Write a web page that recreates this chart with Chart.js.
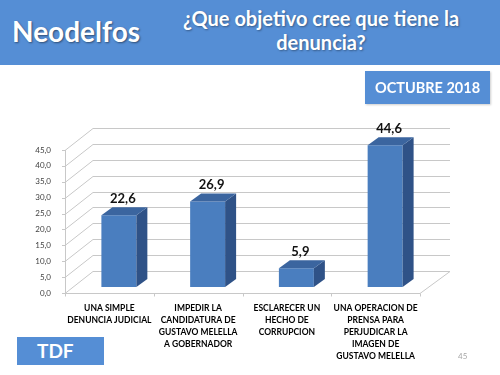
<!DOCTYPE html>
<html>
<head>
<meta charset="utf-8">
<script src="https://cdn.jsdelivr.net/npm/chart.js@4.4.0/dist/chart.umd.min.js"></script>
<style>
  body { margin: 0; width: 500px; height: 375px; overflow: hidden; background: #fff; font-family: Lato, "Open Sans", sans-serif; }
  #cabecera { position: absolute; left: 0; top: 0; width: 500px; height: 65px; background: #558ed5; }
  #marca { position: absolute; left: 12px; top: 14px; color: #fff; font-weight: bold; font-size: 28px; text-shadow: 1px 1px 2px rgba(0,0,0,0.45); }
  #titulo { position: absolute; left: 160px; width: 322px; top: 6px; text-align: center; color: #fff; font-weight: bold; font-size: 20px; line-height: 24px; text-shadow: 1px 1px 2px rgba(0,0,0,0.35); }
  #fecha { position: absolute; left: 365px; top: 71px; width: 125px; height: 33px; background: #558ed5; color: #fff; font-weight: bold; font-size: 14.5px; line-height: 33px; text-align: center; box-shadow: 1px 1px 2px rgba(0,0,0,0.2); }
  #tdf { position: absolute; left: 17px; top: 337px; width: 87px; height: 28px; background: #558ed5; color: #fff; font-weight: bold; font-size: 19px; line-height: 28px; text-indent: 20px; }
  #pagina { position: absolute; left: 458px; top: 351px; color: #a6a6a6; font-size: 8px; }
  canvas { position: absolute; left: 0; top: 0; }
</style>
</head>
<body>
<canvas id="grafico" width="500" height="375"></canvas>
<div id="cabecera">
  <div id="marca">Neodelfos</div>
  <div id="titulo">¿Que objetivo cree que tiene la<br>denuncia?</div>
</div>
<div id="fecha">OCTUBRE 2018</div>
<div id="tdf">TDF</div>
<div id="pagina">45</div>
<script>
"use strict";
// datos del grafico
const categorias = [
  ["UNA SIMPLE", "DENUNCIA JUDICIAL"],
  ["IMPEDIR LA", "CANDIDATURA DE", "GUSTAVO MELELLA", "A GOBERNADOR"],
  ["ESCLARECER UN", "HECHO DE", "CORRUPCION"],
  ["UNA OPERACION DE", "PRENSA PARA", "PERJUDICAR LA", "IMAGEN DE", "GUSTAVO MELELLA"]
];
const valores = [22.6, 26.9, 5.9, 44.6];
const ticksY = [0, 5, 10, 15, 20, 25, 30, 35, 40, 45];

const coma = (v) => v.toFixed(1).replace(".", ",");

// profundidad de la pared y de las barras
const PARED_X = 28, PARED_Y = -22;
const BARRA_X = 9.5, BARRA_Y = -6;
const LADO_X = 11, LADO_Y = -8;

const efecto3d = {
  id: "efecto3d",
  beforeDatasetsDraw(chart) {
    const ctx = chart.ctx;
    const area = chart.chartArea;
    const ys = chart.scales.y;
    const xs = chart.scales.x;
    ctx.save();
    ctx.strokeStyle = "#c8c8c8";
    ctx.lineWidth = 1;
    ctx.beginPath();
    // lineas de la pared
    ticksY.forEach((v) => {
      const y = Math.round(ys.getPixelForValue(v)) + 0.5;
      ctx.moveTo(area.left - 3, y);
      ctx.lineTo(area.left, y);
      ctx.lineTo(area.left + PARED_X, y + PARED_Y);
      ctx.lineTo(area.right + PARED_X + 2, y + PARED_Y);
    });
    // eje vertical
    ctx.moveTo(area.left + 0.5, ys.getPixelForValue(45));
    ctx.lineTo(area.left + 0.5, ys.getPixelForValue(0));
    // piso
    const y0 = Math.round(ys.getPixelForValue(0)) + 0.5;
    ctx.moveTo(area.left, y0);
    ctx.lineTo(area.right, y0);
    ctx.lineTo(area.right + PARED_X + 2, y0 + PARED_Y);
    // marcas del eje x
    for (let i = 0; i <= valores.length; i++) {
      let x;
      if (i === 0) x = area.left;
      else if (i === valores.length) x = area.right;
      else x = (xs.getPixelForValue(i - 1) + xs.getPixelForValue(i)) / 2;
      x = Math.round(x) + 0.5;
      ctx.moveTo(x, y0);
      ctx.lineTo(x, y0 + 3);
    }
    ctx.stroke();
    ctx.restore();

    ctx.save();
    ctx.translate(BARRA_X, BARRA_Y);
  },
  afterDatasetsDraw(chart) {
    const ctx = chart.ctx;
    const meta = chart.getDatasetMeta(0);
    meta.data.forEach((bar, i) => {
      const p = bar.getProps(["x", "y", "base", "width"], true);
      const izq = p.x - p.width / 2;
      const der = p.x + p.width / 2;
      // cara lateral
      ctx.fillStyle = "#2f5287";
      ctx.beginPath();
      ctx.moveTo(der, p.y);
      ctx.lineTo(der + LADO_X, p.y + LADO_Y);
      ctx.lineTo(der + LADO_X, p.base + LADO_Y);
      ctx.lineTo(der, p.base);
      ctx.closePath();
      ctx.fill();
      // cara superior
      ctx.fillStyle = "#3b659f";
      ctx.beginPath();
      ctx.moveTo(izq, p.y);
      ctx.lineTo(izq + LADO_X, p.y + LADO_Y);
      ctx.lineTo(der + LADO_X, p.y + LADO_Y);
      ctx.lineTo(der, p.y);
      ctx.closePath();
      ctx.fill();
      // etiqueta del valor
      ctx.fillStyle = "#111";
      ctx.font = "bold 13px Lato, sans-serif";
      ctx.textAlign = "center";
      ctx.textBaseline = "bottom";
      ctx.fillText(coma(valores[i]), p.x + 4, p.y + LADO_Y - 2);
    });
    ctx.restore();
  }
};

new Chart(document.getElementById("grafico"), {
  type: "bar",
  data: {
    labels: categorias,
    datasets: [{
      data: valores,
      backgroundColor: "#4a7ebf",
      barPercentage: 0.394,
      categoryPercentage: 1,
      clip: false
    }]
  },
  options: {
    responsive: false,
    animation: false,
    devicePixelRatio: 1,
    layout: { padding: { left: 20, right: 80, top: 150, bottom: 7 } },
    plugins: { legend: { display: false }, tooltip: { enabled: false } },
    scales: {
      x: {
        grid: { display: false },
        border: { display: false },
        ticks: {
          color: "#000",
          font: { family: "Lato", weight: "bold", size: 8.5, lineHeight: 1.41 },
          padding: 1,
          maxRotation: 0,
          autoSkip: false
        },
        afterFit(scale) { scale.height = 75; }
      },
      y: {
        min: 0,
        max: 45,
        grid: { display: false },
        border: { display: false },
        ticks: {
          stepSize: 5,
          color: "#404040",
          font: { family: "Lato", size: 8 },
          padding: 6,
          callback: (v) => coma(v)
        },
        afterFit(scale) { scale.width = 45; }
      }
    }
  },
  plugins: [efecto3d]
});
</script>
</body>
</html>
